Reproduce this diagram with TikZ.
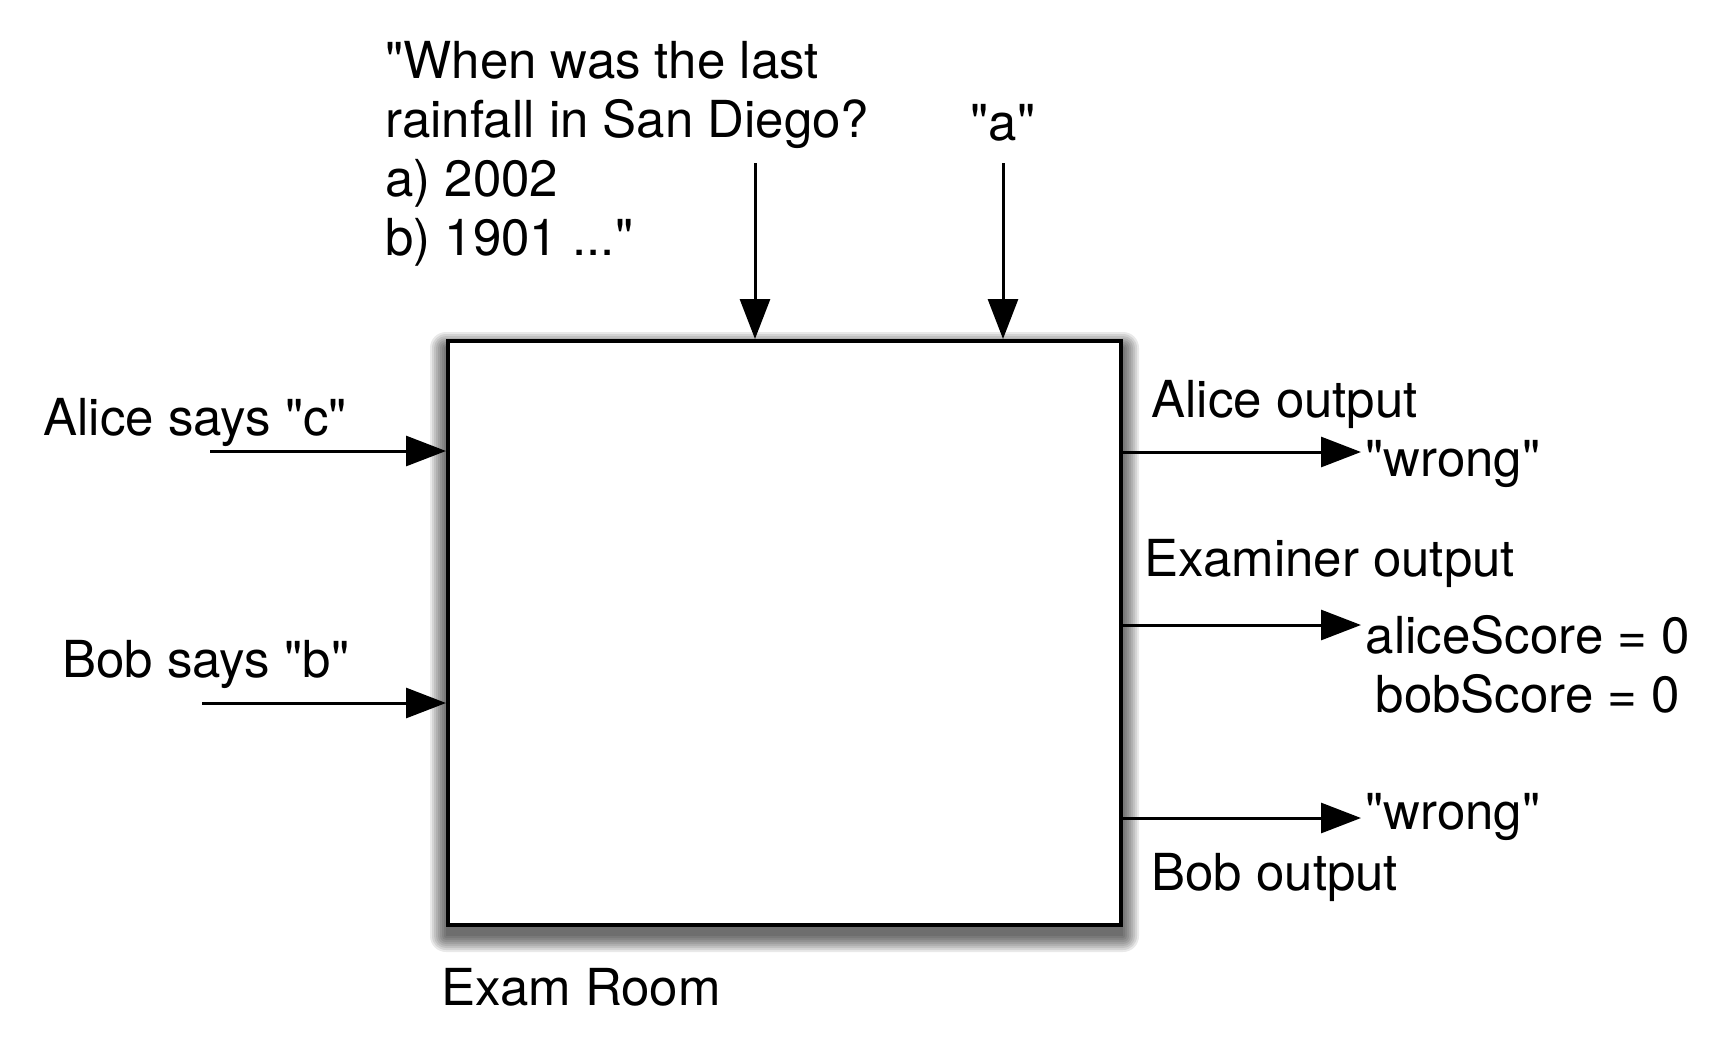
\documentclass[tikz,border=0pt]{standalone}
\usepackage{fontspec}
\setmainfont{TeX Gyre Heros}
\usetikzlibrary{arrows.meta,calc,backgrounds}
% straight double quote
\newcommand{\dq}{\textquotedbl}
\begin{document}
\begin{tikzpicture}[x=0.5pt,y=-0.5pt,
  lbl/.style={inner sep=0pt, font=\fontsize{25.5pt}{29.5pt}\selectfont},
  flow/.style={line width=1.5pt, -{Triangle[length=20pt,width=15pt]}},
  roombox/.style={draw, line width=2pt, fill=white, inner sep=0pt,
    minimum width=336.5pt, minimum height=292pt},
  shadowlayer/.style={fill=black, fill opacity=0.085, draw=none}]
\useasboundingbox (0,0) rectangle (1721,1056);

% the exam room
\node[roombox] (room) at (784.5,633) {};
\node[lbl, anchor=base west] (roomlbl) at (441,1005) {Exam Room};

% soft drop shadow under the room
\begin{scope}[on background layer]
  \fill[white] (0,0) rectangle (1721,1056);
  \foreach \e in {0,2,...,16} {
    \fill[shadowlayer, rounded corners=\e*0.5pt]
      ($(room.north west)+(-\e,-\e+9)$) rectangle ($(room.south east)+(\e,\e+9)$);
  }
\end{scope}

% inputs from above: the question and the correct answer
\node[lbl, anchor=north west, align=left] (question) at (385,41)
  {\dq When was the last\\rainfall in San Diego?\\a) 2002\\b) 1901 ...\dq};
\node[lbl, anchor=base] (key) at (1003,140) {\dq a\dq};
\coordinate (qin) at (755,163);
\coordinate (kin) at (1003,163);
\draw[flow] (qin) -- (qin |- room.north);
\draw[flow] (kin) -- (kin |- room.north);

% inputs from the left: the two answers
\node[lbl, anchor=base west] (alicein) at (43,435) {Alice says \dq c\dq};
\node[lbl, anchor=base west] (bobin) at (62,677) {Bob says \dq b\dq};
\coordinate (ain) at (210,451);
\coordinate (bin) at (202,703);
\draw[flow] (ain) -- (ain -| room.west);
\draw[flow] (bin) -- (bin -| room.west);

% outputs on the right
\coordinate (aout) at (1361,452);
\coordinate (eout) at (1361,625);
\coordinate (bout) at (1361,818);
\draw[flow] (room.east |- aout) -- (aout);
\draw[flow] (room.east |- eout) -- (eout);
\draw[flow] (room.east |- bout) -- (bout);

\node[lbl, anchor=base west] (aliceoutlbl) at (1151,417) {Alice output};
\node[lbl, anchor=base west] (aliceres) at (1365,476) {\dq wrong\dq};
\node[lbl, anchor=base west] (examlbl) at (1144,576) {Examiner output};
\node[lbl, anchor=north, align=center] (scores) at (1528,615)
  {aliceScore = 0\\bobScore = 0};
\node[lbl, anchor=base west] (bobres) at (1365,829) {\dq wrong\dq};
\node[lbl, anchor=base west] (boboutlbl) at (1151,890) {Bob output};
\end{tikzpicture}
\end{document}
